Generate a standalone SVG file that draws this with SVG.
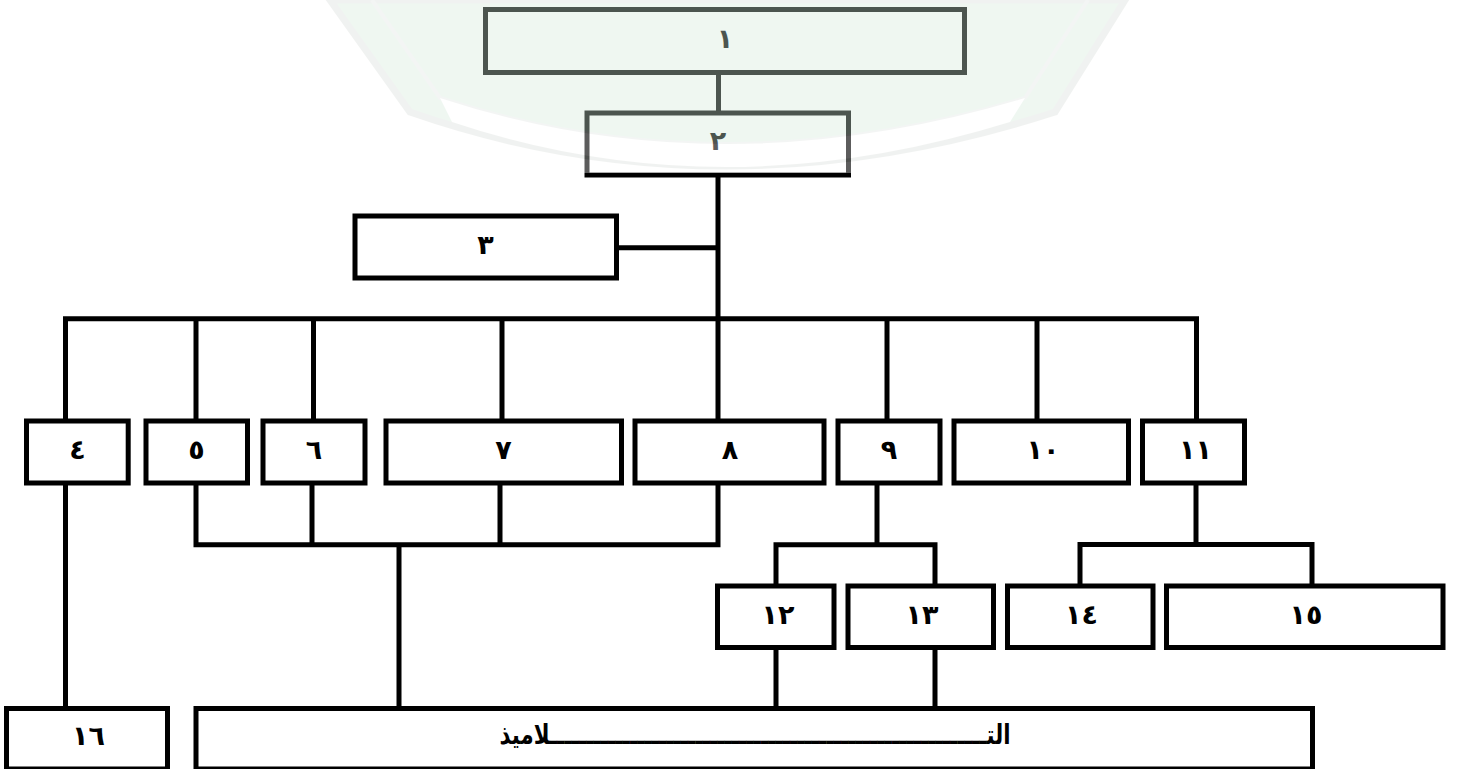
<svg xmlns="http://www.w3.org/2000/svg" width="1459" height="769" viewBox="0 0 1459 769">
  <style>
    .box { fill: none; stroke: #000; stroke-width: 5; }
    .ln { fill: none; stroke: #000; stroke-width: 5; stroke-linejoin: miter; stroke-linecap: butt; }
    .lbl { font-family: "DejaVu Sans", sans-serif; font-weight: bold; font-size: 27px; text-anchor: middle; dominant-baseline: central; fill: #000; }
    .multi { letter-spacing: 3px; }
  </style>
  <rect x="0" y="0" width="1459" height="769" fill="#fff"/>

  <g id="connectors">
    <path class="ln" d="M718.5,75 V111"/>
    <path class="ln" d="M718,177 V318.7"/>
    <path class="ln" d="M619,247.7 H718"/>
    <path class="ln" d="M65.5,419 V318.7 H1196.5 V419"/>
    <path class="ln" d="M196,318.7 V419 M313.5,318.7 V419 M502,318.7 V419 M718,318.7 V419 M887,318.7 V419 M1037,318.7 V419"/>
    <path class="ln" d="M65.5,485 V707"/>
    <path class="ln" d="M196,485 V544.7 H718 V485"/>
    <path class="ln" d="M312,485 V544.7 M500,485 V544.7"/>
    <path class="ln" d="M399,544.7 V707"/>
    <path class="ln" d="M877,485 V544.8"/>
    <path class="ln" d="M776,584 V544.8 H935 V584"/>
    <path class="ln" d="M1196,485 V544.5"/>
    <path class="ln" d="M1080,584 V544.5 H1312 V584"/>
    <path class="ln" d="M776,649 V707 M935,649 V707"/>
  </g>

  <g id="n1"><rect class="box" x="485.5" y="9.5" width="479" height="63"/><text class="lbl" x="725" y="38">١</text></g>
  <g id="n2"><rect class="box" x="587" y="113" width="261.5" height="62"/><text class="lbl" x="718" y="140">٢</text></g>
  <g id="n3"><rect class="box" x="355" y="216" width="261.5" height="62"/><text class="lbl" x="485.5" y="244">٣</text></g>
  <g id="n4"><rect class="box" x="26.5" y="421" width="101.7" height="62"/><text class="lbl" x="77.5" y="449">٤</text></g>
  <g id="n5"><rect class="box" x="146" y="421" width="101.5" height="62"/><text class="lbl" x="196.5" y="449">٥</text></g>
  <g id="n6"><rect class="box" x="263" y="421" width="102" height="62"/><text class="lbl" x="314" y="449">٦</text></g>
  <g id="n7"><rect class="box" x="386" y="421" width="235.5" height="62"/><text class="lbl" x="503.5" y="449">٧</text></g>
  <g id="n8"><rect class="box" x="635" y="421" width="189" height="62"/><text class="lbl" x="730" y="449">٨</text></g>
  <g id="n9"><rect class="box" x="838" y="421" width="102" height="62"/><text class="lbl" x="889" y="449">٩</text></g>
  <g id="n10"><rect class="box" x="954" y="421" width="174.5" height="62"/><text class="lbl multi" x="1043" y="449">١٠</text></g>
  <g id="n11"><rect class="box" x="1142.5" y="421" width="102" height="62"/><text class="lbl multi" x="1195.5" y="449">١١</text></g>
  <g id="n12"><rect class="box" x="717.5" y="586" width="116.5" height="61.5"/><text class="lbl multi" x="778" y="614">١٢</text></g>
  <g id="n13"><rect class="box" x="848" y="586" width="145.5" height="61.5"/><text class="lbl multi" x="922" y="614">١٣</text></g>
  <g id="n14"><rect class="box" x="1007.5" y="586" width="145.5" height="61.5"/><text class="lbl multi" x="1081.5" y="614">١٤</text></g>
  <g id="n15"><rect class="box" x="1166.5" y="586" width="276.5" height="61.5"/><text class="lbl multi" x="1306" y="614">١٥</text></g>
  <g id="n16"><rect class="box" x="6.5" y="708.5" width="161" height="60.5"/><text class="lbl multi" x="88.5" y="735">١٦</text></g>
  <g id="n17"><rect class="box" x="196" y="708.5" width="1116.5" height="60.5"/><text class="lbl" x="755" y="734" font-size="21" textLength="511" lengthAdjust="spacingAndGlyphs">التــــــــــــــــــــــــــــــــــــــــــــــــــــــــــــلاميذ</text></g>

  <g id="watermark" opacity="0.36">
    <rect x="240" y="0" width="980" height="173" fill="#fff"/>
    <path d="M330,0 L410,112 Q720,220 1055,112 L1125,0 Z" fill="#d3ebdb" stroke="#d8ddd9" stroke-width="7"/>
    <path d="M372,0 L440,98 Q720,190 1025,98 L1088,0" fill="none" stroke="#dfe5e1" stroke-width="4"/>
    <path d="M440,98 Q720,190 1025,98 L1010,122 Q720,212 452,122 Z" fill="#fff"/>
  </g>
</svg>
